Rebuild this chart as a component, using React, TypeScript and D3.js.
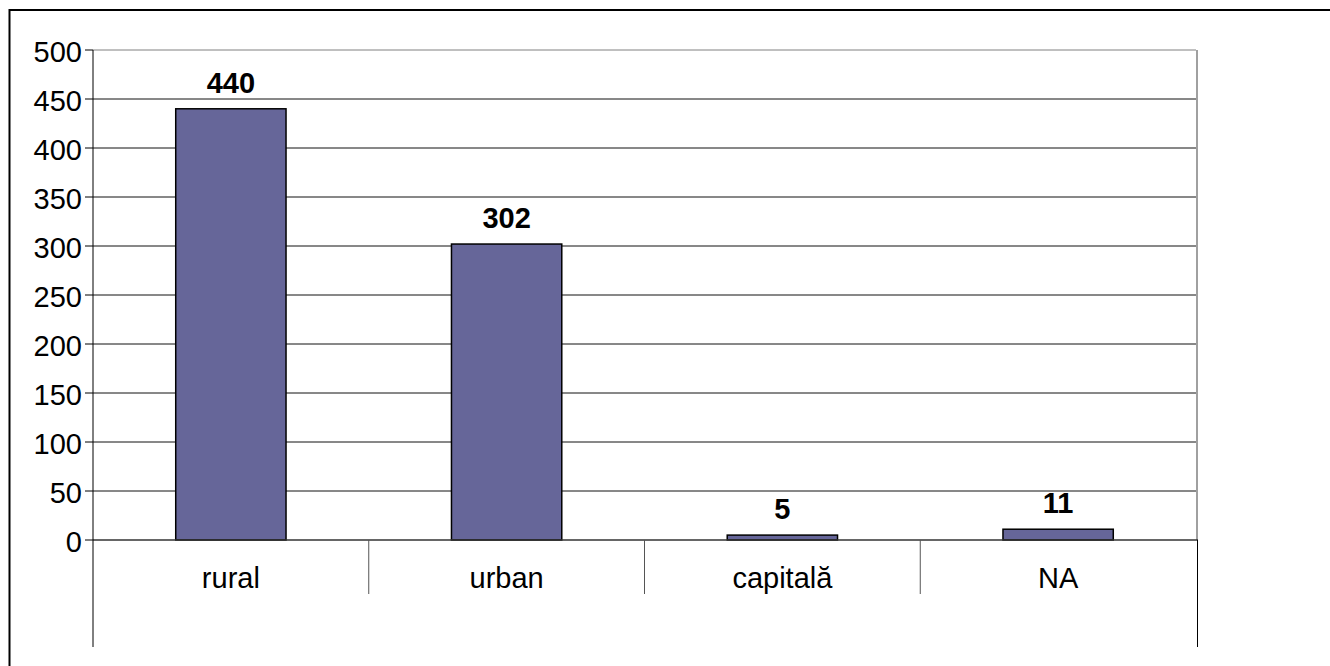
import { useRef, useEffect } from "react";
import * as d3 from "d3";

const categories = ["rural", "urban", "capitală", "NA"];
const values = [440, 302, 5, 11];
const yTicks = [0, 50, 100, 150, 200, 250, 300, 350, 400, 450, 500];

const App = () => {
    const svgRef = useRef<SVGSVGElement>(null);

    useEffect(() => {
        document.body.style.margin = "0";
        document.body.style.overflow = "hidden";
        if (!svgRef.current) return;
        const svg = d3.select(svgRef.current);
        svg.selectAll("*").remove();

        const width = 1330;
        const height = 666;
        const plot = { left: 93, right: 1196, top: 50, bottom: 540 };
        const font = "'Liberation Sans', Arial, sans-serif";
        const fs = 29;

        const x = d3
            .scaleBand()
            .domain(categories)
            .range([plot.left, plot.right])
            .paddingInner(0)
            .paddingOuter(0);
        const y = d3.scaleLinear().domain([0, 500]).range([plot.bottom, plot.top]);

        svg.attr("width", width).attr("height", height).style("display", "block");

        // outer frame: only left and top edges are visible
        svg.append("path")
            .attr("d", `M9.5,${height} L9.5,10 L${width},10`)
            .attr("fill", "none")
            .attr("stroke", "black")
            .attr("stroke-width", 2);

        // gridlines
        svg.append("g")
            .selectAll("line")
            .data(yTicks.filter((t) => t > 0))
            .enter()
            .append("line")
            .attr("x1", plot.left)
            .attr("x2", plot.right)
            .attr("y1", (d) => y(d))
            .attr("y2", (d) => y(d))
            .attr("stroke", (d) => (d === 500 ? "#808080" : "#111"))
            .attr("stroke-width", 1);

        // right plot border (gray)
        svg.append("line")
            .attr("x1", plot.right + 1)
            .attr("x2", plot.right + 1)
            .attr("y1", plot.top)
            .attr("y2", plot.bottom)
            .attr("stroke", "#a0a0a0")
            .attr("stroke-width", 2);

        // bars
        const barW = x.bandwidth() * 0.4;
        svg.append("g")
            .selectAll("rect")
            .data(values)
            .enter()
            .append("rect")
            .attr("x", (_, i) => (x(categories[i]) || 0) + (x.bandwidth() - barW) / 2)
            .attr("y", (d) => y(d))
            .attr("width", barW)
            .attr("height", (d) => y(0) - y(d))
            .attr("fill", "#666699")
            .attr("stroke", "black")
            .attr("stroke-width", 1.5);

        // value labels
        svg.append("g")
            .selectAll("text")
            .data(values)
            .enter()
            .append("text")
            .attr("x", (_, i) => (x(categories[i]) || 0) + x.bandwidth() / 2)
            .attr("y", (d) => y(d) - 16)
            .attr("text-anchor", "middle")
            .attr("font-family", font)
            .attr("font-weight", "bold")
            .attr("font-size", fs)
            .attr("fill", "black")
            .text((d) => String(d));

        // x axis line
        svg.append("line")
            .attr("x1", plot.left)
            .attr("x2", plot.right + 2)
            .attr("y1", y(0))
            .attr("y2", y(0))
            .attr("stroke", "#333")
            .attr("stroke-width", 1.5);

        // category separators
        svg.append("g")
            .selectAll("line")
            .data(categories.slice(1))
            .enter()
            .append("line")
            .attr("x1", (d) => x(d) || 0)
            .attr("x2", (d) => x(d) || 0)
            .attr("y1", y(0))
            .attr("y2", 594)
            .attr("stroke", "#555")
            .attr("stroke-width", 1);

        // left/right lines below axis
        svg.append("line")
            .attr("x1", plot.left)
            .attr("x2", plot.left)
            .attr("y1", plot.top)
            .attr("y2", 647)
            .attr("stroke", "black")
            .attr("stroke-width", 1);
        svg.append("line")
            .attr("x1", plot.right + 1.5)
            .attr("x2", plot.right + 1.5)
            .attr("y1", plot.bottom)
            .attr("y2", 647)
            .attr("stroke", "black")
            .attr("stroke-width", 1);

        // category labels
        svg.append("g")
            .selectAll("text")
            .data(categories)
            .enter()
            .append("text")
            .attr("x", (d) => (x(d) || 0) + x.bandwidth() / 2)
            .attr("y", 588)
            .attr("text-anchor", "middle")
            .attr("font-family", font)
            .attr("font-size", fs)
            .attr("fill", "black")
            .text((d) => d);

        // y ticks and labels
        const yAxis = svg.append("g");
        yAxis.selectAll("line")
            .data(yTicks)
            .enter()
            .append("line")
            .attr("x1", plot.left - 8)
            .attr("x2", plot.left)
            .attr("y1", (d) => y(d))
            .attr("y2", (d) => y(d))
            .attr("stroke", "black")
            .attr("stroke-width", 1);
        yAxis.selectAll("text")
            .data(yTicks)
            .enter()
            .append("text")
            .attr("x", 82)
            .attr("y", (d) => y(d) + 12)
            .attr("text-anchor", "end")
            .attr("font-family", font)
            .attr("font-size", fs)
            .attr("fill", "black")
            .text((d) => String(d));
    }, []);

    return <svg ref={svgRef} />;
};

export default App;
